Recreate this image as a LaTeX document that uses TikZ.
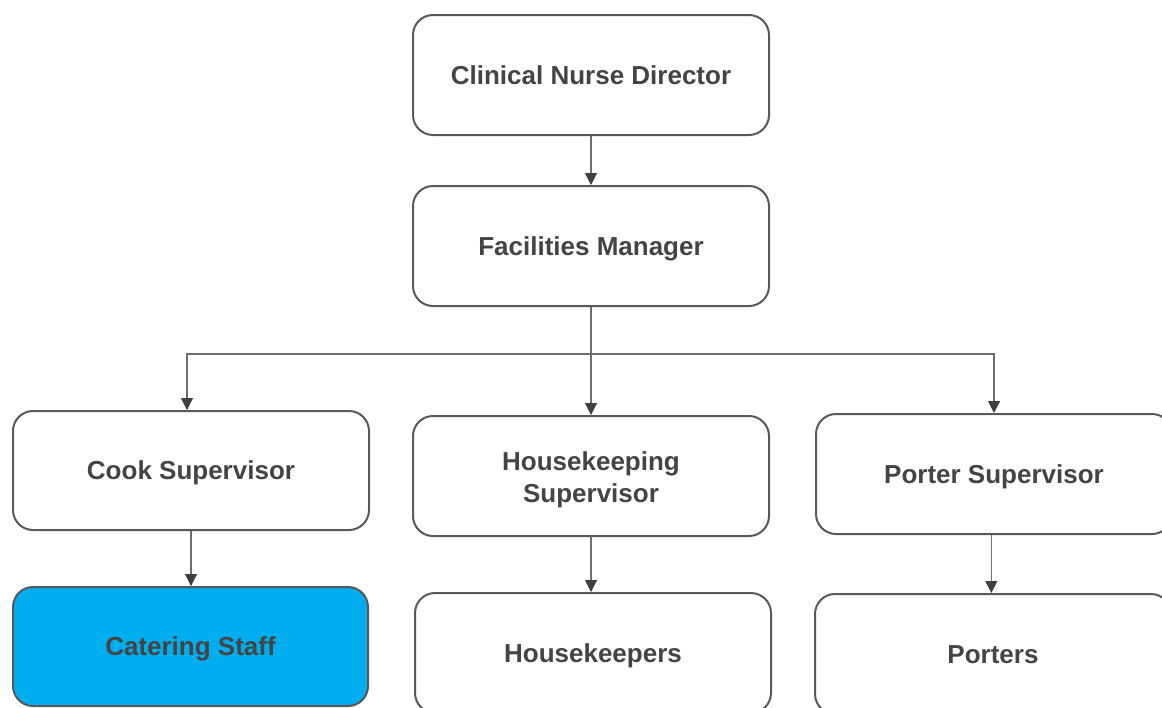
\documentclass[tikz,border=0pt]{standalone}
\usepackage{fontspec}
\setmainfont{Liberation Sans}
\usetikzlibrary{arrows.meta}
\definecolor{boxline}{HTML}{595959}
\definecolor{txt}{HTML}{444444}
\definecolor{conn}{HTML}{6E6E6E}
\definecolor{tip}{HTML}{3F3F3F}
\definecolor{cyanfill}{HTML}{00AEEF}
\tikzset{
  orgbox/.style={draw=boxline, line width=1.5pt, rounded corners=15pt, fill=white,
    minimum width=267pt, minimum height=90pt, align=center, text=txt,
    font=\fontsize{19.5}{24}\selectfont\bfseries, inner sep=0pt,
    text height=14pt, text depth=0pt},
  link/.style={draw=conn, line width=0.8pt,
    -{Triangle[length=9pt,width=9pt,fill=tip,color=tip]}},
  plain/.style={draw=conn, line width=0.8pt}
}
\begin{document}
\begin{tikzpicture}[x=0.75pt,y=-0.75pt]
\useasboundingbox (0,0) rectangle (1162,707);
\clip (0,0) rectangle (1162,707);
\fill[white] (0,0) rectangle (1162,707);
\node[orgbox] (cnd) at (591,75) {Clinical Nurse Director};
\node[orgbox] (fm) at (591,246) {Facilities Manager};
\node[orgbox, minimum height=89.25pt] (cook) at (191,470.5) {Cook Supervisor};
\node[orgbox, text height=43pt, text depth=4pt] (hs) at (591,476) {Housekeeping\\Supervisor};
\node[orgbox] (ps) at (994,474) {Porter Supervisor};
\node[orgbox, fill=cyanfill, minimum width=266.25pt, minimum height=89.25pt] (cat) at (190.5,646.5) {Catering Staff};
\node[orgbox] (hk) at (593,653) {Housekeepers};
\node[orgbox] (por) at (993,654) {Porters};
\coordinate (bus) at (591,354);
\draw[link] (cnd.south) -- (fm.north);
\draw[plain] (fm.south) -- (bus);
\draw[link] (bus) -| ([xshift=-3pt]cook.north);
\draw[link] (bus) -- (hs.north);
\draw[link] (bus) -| (ps.north);
\draw[link] (cook.south) -- (cook.south |- cat.north);
\draw[link] (hs.south) -- (hs.south |- hk.north);
\draw[link] ([xshift=-2pt]ps.south) -- ([xshift=-2pt]ps.south |- por.north);
\end{tikzpicture}
\end{document}
